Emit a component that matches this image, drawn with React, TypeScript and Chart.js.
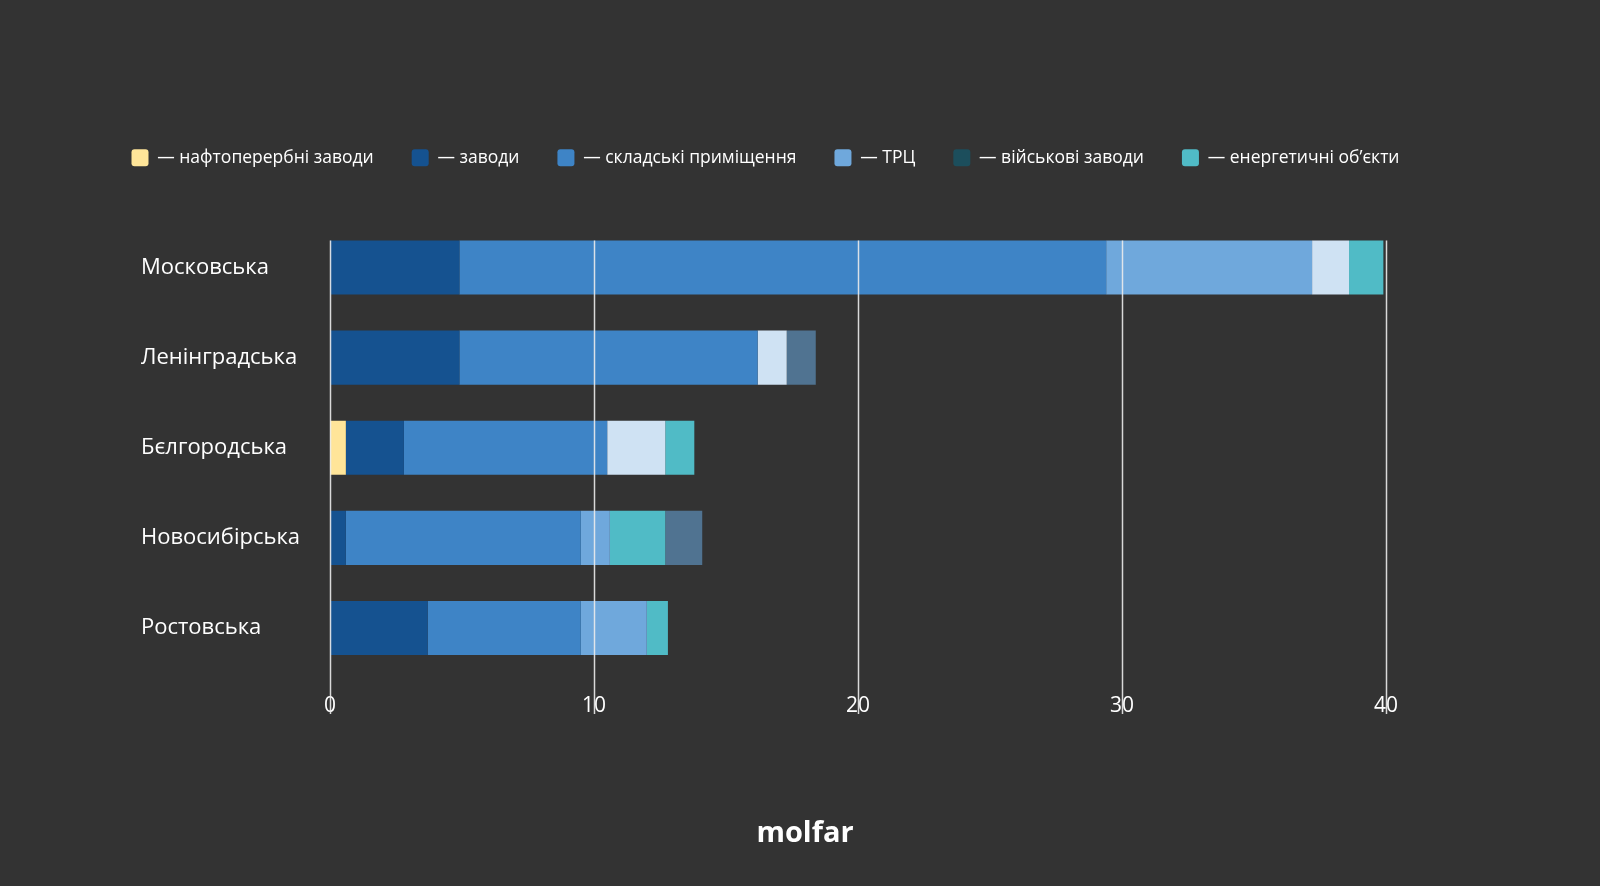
import React, { useEffect, useRef } from "react";
import { Chart, registerables } from "chart.js";

Chart.register(...registerables);

const regions = ["Московська", "Ленінградська", "Бєлгородська", "Новосибірська", "Ростовська"];
const refineries = [0, 0, 0.6, 0, 0];
const factories = [4.9, 4.9, 2.2, 0.6, 3.7];
const warehouses = [24.5, 11.3, 7.7, 8.9, 5.8];
const malls = [7.8, 0, 0, 1.1, 2.5];
const otherLight = [1.4, 1.1, 2.2, 0, 0];
const military = [0, 0, 0, 0, 0];
const energy = [1.3, 0, 1.1, 2.1, 0.8];
const otherSlate = [0, 1.1, 0, 1.4, 0];
const xTicks = [0, 10, 20, 30, 40];

const FONT = '"Open Sans", sans-serif';

export default function App() {
  const ref = useRef<HTMLCanvasElement>(null);

  useEffect(() => {
    document.body.style.margin = "0";
    document.body.style.background = "#333333";
    const canvas = ref.current;
    if (!canvas) return;

    const hidden = [4, 7];

    const legendGap = {
      id: "legendGap",
      beforeInit(chart: any) {
        const legend = chart.legend;
        if (!legend) return;
        const orig = legend.fit;
        legend.fit = function () {
          const mw = this.maxWidth;
          this.maxWidth = mw + 400;
          orig.call(this);
          this.maxWidth = mw;
          this.width = mw;
          this.height += 46;
        };
      },
      afterLayout(chart: any) {
        const legend = chart.legend;
        if (!legend) return;
        legend.left = 65;
        legend.right = 1466;
        legend.width = 1466 - 65;
      },
    };

    const gridOnTop = {
      id: "gridOnTop",
      afterDatasetsDraw(chart: any) {
        const { ctx, chartArea } = chart;
        const x = chart.scales.x;
        const el = chart.getDatasetMeta(0).data[0];
        const p = el.getProps(["y", "height"], true);
        const top = p.y - p.height / 2;
        ctx.save();
        ctx.strokeStyle = "rgba(235,235,235,0.9)";
        ctx.lineWidth = 1.5;
        x.ticks.forEach((t: any) => {
          const px = Math.round(x.getPixelForValue(t.value)) + 0.5;
          ctx.beginPath();
          ctx.moveTo(px, top);
          ctx.lineTo(px, chartArea.bottom + 41);
          ctx.stroke();
        });
        ctx.restore();
      },
    };

    const logo = {
      id: "logo",
      afterDraw(chart: any) {
        const { ctx } = chart;
        ctx.save();
        ctx.fillStyle = "#ffffff";
        ctx.font = `bold 29px ${FONT}`;
        ctx.textAlign = "center";
        ctx.textBaseline = "middle";
        ctx.fillText("molfar", chart.width / 2 + 5, 834);
        ctx.restore();
      },
    };

    const mk = (label: string, data: number[], color: string) => ({
      label,
      data,
      backgroundColor: color,
      borderWidth: 0,
      barPercentage: 0.6,
      categoryPercentage: 1,
    });

    const chart = new Chart(canvas, {
      type: "bar",
      data: {
        labels: regions,
        datasets: [
          mk("нафтоперербні заводи", refineries, "#ffe599"),
          mk("заводи", factories, "#155290"),
          mk("складські приміщення", warehouses, "#3e84c6"),
          mk("ТРЦ", malls, "#6fa8dc"),
          mk("інше", otherLight, "#cfe2f3"),
          mk("військові заводи", military, "#1c4e5c"),
          mk("енергетичні об’єкти", energy, "#50bbc6"),
          mk("інші об’єкти", otherSlate, "#507391"),
        ],
      },
      options: {
        indexAxis: "y",
        animation: false,
        responsive: false,
        maintainAspectRatio: false,
        layout: { padding: { top: 111, left: 141, right: 214, bottom: 168 } },
        plugins: {
          tooltip: { enabled: false },
          legend: {
            position: "top",
            align: "center",
            labels: {
              color: "#ffffff",
              font: { family: FONT, size: 17.5 },
              boxWidth: 17,
              boxHeight: 17,
              padding: 38,
              useBorderRadius: true,
              borderRadius: 3,
              filter: (item: any) => !hidden.includes(item.datasetIndex),
              generateLabels: (chart: any) => {
                const items = Chart.defaults.plugins.legend.labels.generateLabels(chart);
                return items.map((it: any) => ({ ...it, text: "— " + it.text, lineWidth: 0 }));
              },
            },
          },
        },
        scales: {
          x: {
            stacked: true,
            min: xTicks[0],
            max: xTicks[xTicks.length - 1],
            afterFit: (scale: any) => {
              scale.height = 45;
            },
            ticks: {
              stepSize: 10,
              color: "#ffffff",
              font: { family: FONT, size: 21 },
              padding: 20,
            },
            grid: { display: false, drawTicks: false },
            border: { display: false },
          },
          y: {
            stacked: true,
            afterFit: (scale: any) => {
              scale.width = 189;
            },
            ticks: {
              color: "#ffffff",
              crossAlign: "far",
              font: { family: FONT, size: 22 },
              padding: 0,
            },
            grid: { display: false, drawTicks: false },
            border: { display: false },
          },
        },
      },
      plugins: [legendGap, gridOnTop, logo],
    } as any);

    return () => chart.destroy();
  }, []);

  return (
    <div style={{ width: 1600, height: 886, background: "#333333" }}>
      <canvas ref={ref} width={1600} height={886} style={{ display: "block" }} />
    </div>
  );
}
